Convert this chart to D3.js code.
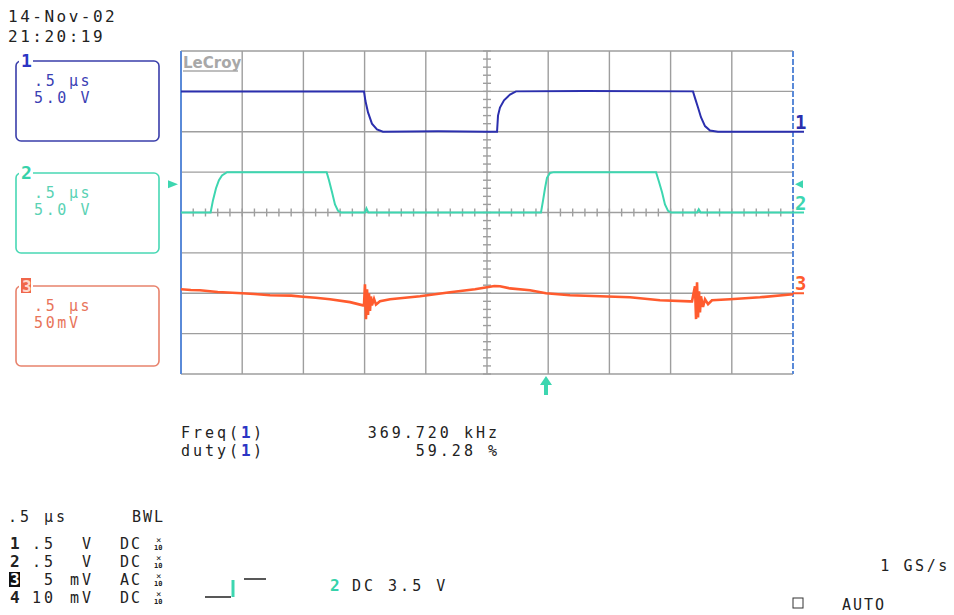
<!DOCTYPE html>
<html>
<head>
<meta charset="utf-8">
<script src="https://cdn.jsdelivr.net/npm/d3@7"></script>
<style>
  body { margin: 0; background: #fff; }
  svg text { font-family: "DejaVu Sans Mono", monospace; }
</style>
</head>
<body>
<div id="scope"></div>
<script>
// time in us, channel values in volts (ch1, ch2) and mV (ch3)
var ch1Time  = [-2.5, -1.005, -0.993, -0.972, -0.94, -0.899, -0.85, -0.4, 0.0, 0.082, 0.09, 0.106, 0.139, 0.188, 0.237, 0.8, 1.683, 1.699, 1.724, 1.748, 1.781, 1.822, 1.887, 2.5];
var ch1Volts = [5.0, 5.0, 3.8, 2.4, 1.0, 0.3, 0.0, 0.05, 0.0, 0.0, 2.0, 3.0, 3.9, 4.6, 5.0, 5.05, 5.0, 4.2, 3.0, 1.8, 0.7, 0.15, 0.0, 0.0];

var ch2Time  = [-2.5, -2.258, -2.239, -2.214, -2.19, -2.165, -2.124, -1.31, -1.291, -1.266, -1.242, -1.217, -1.193, -0.997, -0.985, -0.97, 0.441, 0.458, 0.474, 0.49, 0.515, 0.547, 1.381, 1.405, 1.43, 1.454, 1.479, 1.503, 1.716, 1.73, 1.745, 2.5];
var ch2Volts = [0.0, 0.0, 1.5, 3.0, 4.0, 4.6, 5.0, 5.0, 4.0, 2.5, 1.0, 0.2, 0.0, 0.0, 0.5, 0.0, 0.0, 1.5, 3.0, 4.3, 4.9, 5.0, 5.0, 3.8, 2.5, 1.0, 0.2, 0.0, 0.0, 0.4, 0.0, 0.0];

var ch3Time = [-2.5, -2.42, -2.345, -2.2, -2.002, -1.9, -1.773, -1.6, -1.503, -1.4, -1.283, -1.119, -1.013, -1.005, -0.997, -0.989, -0.98, -0.972, -0.964, -0.956, -0.948, -0.94, -0.923, -0.907, -0.874, -0.792, -0.547, -0.302, -0.098, 0.0, 0.06, 0.106, 0.188, 0.351, 0.482, 0.678, 0.923, 1.168, 1.413, 1.658, 1.675, 1.699, 1.708, 1.716, 1.724, 1.732, 1.74, 1.748, 1.765, 1.781, 1.806, 1.838, 1.985, 2.23, 2.5];
var ch3mV   = [5, 4, 3.7, 1.5, 0, -1, -2.5, -3, -4.3, -5.5, -7.4, -11, -15, -15, 11, -32, 5, -27, 0, -22, -4, -15, -7, -14, -10, -7.4, -3.7, 1.2, 5, 7.4, 9, 8.7, 6, 3.7, 0, -2.5, -3.7, -5, -8.7, -10, -10, 8.7, -32, 13.6, -30, 2.5, -23.6, -3.7, -17, -7.4, -13.6, -8.7, -7.4, -5, -1.2];

// per channel: scale per division and ground offset in divisions
var channels = [
  { id: 1, perDiv: 5.0, offset: 2, color: "#2b2fae" },
  { id: 2, perDiv: 5.0, offset: 0, color: "#3dd6b0" },
  { id: 3, perDiv: 50, offset: -2, color: "#ff5b2e" }
];
var triggerLevel = 3.5;   // volts, channel 2
var triggerTime = 0.482;  // us

var boxLines = [[".5 \u00b5s", "5.0 V"], [".5 \u00b5s", "5.0 V"], [".5 \u00b5s", "50mV"]];
var settingRows = [["1", ".5", "V", "DC"], ["2", ".5", "V", "DC"], ["3", "5", "mV", "AC"], ["4", "10", "mV", "DC"]];

var svg = d3.select("#scope").append("svg")
  .attr("width", 954).attr("height", 615);

var x = d3.scaleLinear().domain([-2.5, 2.5]).range([181, 793]);
var y = d3.scaleLinear().domain([-4, 4]).range([374, 51]);

// graticule
var grid = svg.append("g").attr("stroke", "#9e9e9e").attr("stroke-width", 1.4);
grid.selectAll(".v").data(d3.range(-2, 2.01, 0.5)).enter().append("line")
  .attr("x1", d => x(d)).attr("x2", d => x(d)).attr("y1", y(4)).attr("y2", y(-4));
grid.selectAll(".h").data(d3.range(-4, 4.01, 1)).enter().append("line")
  .attr("x1", x(-2.5)).attr("x2", x(2.5)).attr("y1", d => y(d)).attr("y2", d => y(d));
// minor ticks on center axes
grid.selectAll(".mx").data(d3.range(-2.5, 2.51, 0.1)).enter().append("line")
  .attr("x1", d => x(d)).attr("x2", d => x(d)).attr("y1", y(0) - 4).attr("y2", y(0) + 4);
grid.selectAll(".my").data(d3.range(-4, 4.01, 0.2)).enter().append("line")
  .attr("x1", x(0) - 4).attr("x2", x(0) + 4).attr("y1", d => y(d)).attr("y2", d => y(d));

// left / right edges
svg.append("line").attr("x1", x(-2.5)).attr("x2", x(-2.5)).attr("y1", y(4)).attr("y2", y(-4))
  .attr("stroke", "#5a8ad8").attr("stroke-width", 2);
svg.append("line").attr("x1", x(2.5)).attr("x2", x(2.5)).attr("y1", y(4)).attr("y2", y(-4))
  .attr("stroke", "#5a8ad8").attr("stroke-width", 2).attr("stroke-dasharray", "6,2");

// LeCroy logo
svg.append("text").attr("x", 183).attr("y", 68).text("LeCroy")
  .attr("fill", "#a8a8a8").attr("font-weight", "bold").attr("font-size", 15)
  .style("font-family", "'DejaVu Sans', sans-serif");
svg.append("line").attr("x1", 183).attr("x2", 238).attr("y1", 71).attr("y2", 71)
  .attr("stroke", "#a8a8a8").attr("stroke-width", 1.5);

// traces
var series = [
  { ch: channels[0], t: ch1Time, v: ch1Volts },
  { ch: channels[1], t: ch2Time, v: ch2Volts },
  { ch: channels[2], t: ch3Time, v: ch3mV }
];
var line = d3.line().x(d => x(d[0])).y(d => y(d[1]));
series.forEach(function (s) {
  var pts = s.t.map((t, i) => [t, s.ch.offset + s.v[i] / s.ch.perDiv]);
  svg.append("path").datum(pts)
    .attr("fill", "none")
    .attr("stroke", s.ch.color)
    .attr("stroke-width", s.ch.id == 3 ? 2.6 : 2)
    .attr("d", line);
});

// ground markers on the right
channels.forEach(function (c) {
  var gy = y(c.offset);
  svg.append("line").attr("x1", x(2.5)).attr("x2", x(2.5) + 11).attr("y1", gy).attr("y2", gy)
    .attr("stroke", c.color).attr("stroke-width", 2);
  svg.append("text").attr("x", 795).attr("y", gy - 3).text(c.id)
    .attr("fill", c.color).attr("font-weight", "bold").attr("font-size", 19);
});
// trigger level markers
var ty = y(channels[1].offset + triggerLevel / channels[1].perDiv);
svg.append("path").attr("d", `M168,${ty - 4}L178,${ty}L168,${ty + 4}Z`).attr("fill", channels[1].color);
svg.append("path").attr("d", `M803,${ty - 4}L795,${ty}L803,${ty + 4}Z`).attr("fill", channels[1].color);
var tx = x(triggerTime);
svg.append("path").attr("d", `M${tx},376L${tx - 6},385L${tx - 2},385L${tx - 2},395L${tx + 2},395L${tx + 2},385L${tx + 6},385Z`)
  .attr("fill", channels[1].color);

// channel boxes
var boxTops = [61, 173, 286];
var boxColors = ["#3a3eaa", "#48d8b4", "#e8826c"];
var textColors = ["#3b3fb4", "#5ad2b4", "#e8745a"];
channels.forEach(function (c, i) {
  var top = boxTops[i];
  svg.append("rect").attr("x", 16).attr("y", top).attr("width", 143).attr("height", 80)
    .attr("rx", 5).attr("fill", "none").attr("stroke", boxColors[i]).attr("stroke-width", 1.6);
  svg.append("rect").attr("x", 19).attr("y", top - 8).attr("width", 14).attr("height", 14).attr("fill", "#fff");
  if (c.id == 3) {
    svg.append("rect").attr("x", 21).attr("y", top - 8).attr("width", 10).attr("height", 15).attr("fill", "#f0664a");
    svg.append("text").attr("x", 22).attr("y", top + 6).text(c.id)
      .attr("fill", "#ffd8cc").attr("font-weight", "bold").attr("font-size", 16);
  } else {
    svg.append("text").attr("x", 21).attr("y", top + 6).text(c.id)
      .attr("fill", c.id == 1 ? "#2b35c4" : "#36d2aa").attr("font-weight", "bold").attr("font-size", 18);
  }
  boxLines[i].forEach(function (s, k) {
    svg.append("text").attr("x", 34).attr("y", top + 25 + k * 17).text(s)
      .attr("fill", textColors[i]).attr("font-size", 15).attr("letter-spacing", 2.6)
      .style("white-space", "pre");
  });
});

function txt(s, x0, y0, opts) {
  opts = opts || {};
  return svg.append("text").attr("x", x0).attr("y", y0).text(s)
    .attr("fill", opts.fill || "#222")
    .attr("font-size", opts.size || 15)
    .attr("letter-spacing", opts.ls == null ? 3 : opts.ls)
    .attr("text-anchor", opts.anchor || "start")
    .attr("font-weight", opts.bold ? "bold" : "normal")
    .style("white-space", "pre");
}

// date / time
txt("14-Nov-02", 8, 22, { size: 16, ls: 2.5 });
txt("21:20:19", 8, 42, { size: 16, ls: 2.5 });

// measurements
txt("Freq(", 181, 438);
txt("1", 181 + 5 * 12, 438, { fill: "#2b35c4", bold: true, size: 16 });
txt(")", 181 + 6 * 12, 438);
txt("duty(", 181, 456);
txt("1", 181 + 5 * 12, 456, { fill: "#2b35c4", bold: true, size: 16 });
txt(")", 181 + 6 * 12, 456);
txt("369.720 kHz", 500, 438, { anchor: "end" });
txt("59.28 %", 500, 456, { anchor: "end" });

// timebase and channel settings
txt(".5 \u00b5s", 8, 522);
txt("BWL", 132, 522, { ls: 2 });
settingRows.forEach(function (r, i) {
  var by = 549 + i * 18;
  if (r[0] == "3") {
    svg.append("rect").attr("x", 9).attr("y", by - 13).attr("width", 11).attr("height", 15).attr("fill", "#111");
    txt(r[0], 10, by, { fill: "#fff", bold: true, size: 16, ls: 0 });
  } else {
    txt(r[0], 10, by, { bold: true, size: 16, ls: 0 });
  }
  txt(r[1], 56, by, { anchor: "end", ls: 3 });
  txt(r[2], 94, by, { anchor: "end", ls: 3 });
  txt(r[3], 120, by, { ls: 2 });
  txt("\u00d7", 156, by - 6, { size: 9, ls: 0 });
  txt("10", 154, by + 1, { size: 7, ls: 0, bold: true });
});

// trigger symbol
svg.append("path").attr("d", "M205,597H231M244,579H266").attr("stroke", "#222").attr("stroke-width", 1.3).attr("fill", "none");
svg.append("path").attr("d", "M233,597V580").attr("stroke", channels[1].color).attr("stroke-width", 3);
txt("2", 330, 591, { fill: "#36d2aa", bold: true, size: 16, ls: 0 });
txt("DC 3.5 V", 352, 591, { ls: 3 });

txt("1 GS/s", 950, 571, { anchor: "end", ls: 2.6 });
svg.append("rect").attr("x", 793).attr("y", 598).attr("width", 10).attr("height", 10)
  .attr("fill", "none").attr("stroke", "#333").attr("stroke-width", 1);
txt("AUTO", 842, 610, { ls: 2 });
</script>
</body>
</html>
